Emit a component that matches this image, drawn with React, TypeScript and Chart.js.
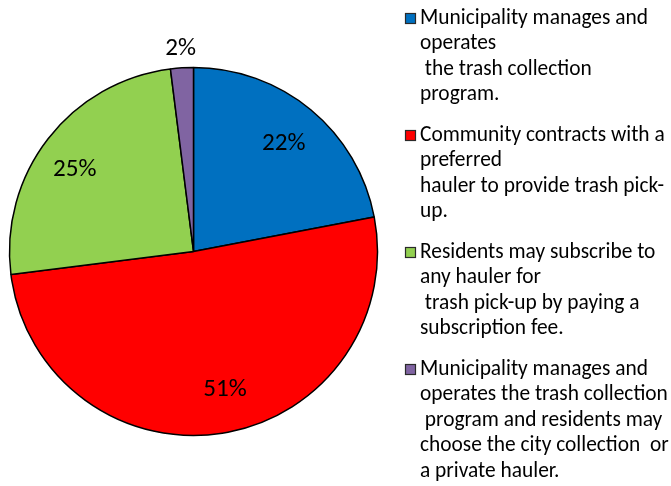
import React, { useEffect, useRef } from "react";
import { Chart, registerables } from "chart.js";

Chart.register(...registerables);

const categories: string[][] = [
  ["Municipality manages and", "operates", " the trash collection", "program."],
  ["Community contracts with a", "preferred", "hauler to provide trash pick-", "up."],
  ["Residents may subscribe to", "any hauler for", " trash pick-up by paying a", "subscription fee."],
  [
    "Municipality manages and",
    "operates the trash collection",
    " program and residents may",
    "choose the city collection  or",
    "a private hauler.",
  ],
];
const values: number[] = [22, 51, 25, 2];
const colors: string[] = ["#0070C0", "#FF0000", "#92D050", "#8064A2"];

// label placement style per slice: angle shift in degrees, radius fraction (outside if > 1)
const labelShiftDeg: number[] = [0, -4, -2.6, 0];
const labelRadiusFrac: number[] = [0.77, 0.76, 0.79, 1.115];

const FONT = "Carlito, Calibri, Lato, 'Open Sans', sans-serif";
const W = 671;
const H = 486;

function fontScale(ctx: CanvasRenderingContext2D): number {
  ctx.save();
  ctx.font = `17px ${FONT}`;
  const w = ctx.measureText("Municipality manages and").width;
  ctx.restore();
  return 228 / w;
}

const overlayPlugin = {
  id: "overlay",
  afterDraw(chart: any) {
    const ctx: CanvasRenderingContext2D = chart.ctx;
    const k = fontScale(ctx);
    const meta = chart.getDatasetMeta(0);
    const data: number[] = chart.data.datasets[0].data;
    const total = data.reduce((a, b) => a + b, 0);

    // percentage labels
    ctx.save();
    ctx.fillStyle = "#000";
    ctx.textAlign = "center";
    ctx.textBaseline = "middle";
    ctx.font = `${(20 * k).toFixed(2)}px ${FONT}`;
    meta.data.forEach((arc: any, i: number) => {
      const p = arc.getProps(["x", "y", "startAngle", "endAngle", "outerRadius"], true);
      const frac = data[i] / total;
      const mid = (p.startAngle + p.endAngle) / 2 + (labelShiftDeg[i] * Math.PI) / 180;
      const r = p.outerRadius * labelRadiusFrac[i];
      ctx.fillText(Math.round(frac * 100) + "%", p.x + Math.cos(mid) * r, p.y + Math.sin(mid) * r + 1.5);
    });
    ctx.restore();

    // legend
    ctx.save();
    ctx.font = `${(17 * k).toFixed(2)}px ${FONT}`;
    ctx.textBaseline = "middle";
    ctx.textAlign = "left";
    const lineH = 25.5;
    const gap = 15;
    let y = 18.5;
    const boxX = 405;
    const textX = 420;
    const labels: string[][] = chart.data.labels;
    labels.forEach((lines, i) => {
      ctx.fillStyle = colors[i];
      ctx.fillRect(boxX, y - 5.5, 11, 11);
      ctx.strokeStyle = "#2a2a2a";
      ctx.lineWidth = 1.2;
      ctx.strokeRect(boxX + 0.5, y - 5, 10, 10);
      ctx.fillStyle = "#000";
      lines.forEach((ln, j) => {
        ctx.fillText(ln, textX, y + j * lineH);
      });
      y += lines.length * lineH + gap;
    });
    ctx.restore();
  },
};

export default function App() {
  const ref = useRef<HTMLCanvasElement | null>(null);
  useEffect(() => {
    document.body.style.margin = "0";
    const canvas = ref.current!;
    const chart = new Chart(canvas, {
      type: "pie",
      data: {
        labels: categories as any,
        datasets: [
          {
            data: values,
            backgroundColor: colors,
            borderColor: "#000000",
            borderWidth: 1.5,
          },
        ],
      },
      options: {
        responsive: false,
        maintainAspectRatio: false,
        animation: false,
        layout: { padding: { left: 8.75, right: 292.75, top: 66.75, bottom: 49.75 } },
        plugins: {
          legend: { display: false },
          tooltip: { enabled: false },
        },
      },
      plugins: [overlayPlugin],
    });
    return () => chart.destroy();
  }, []);
  return (
    <div style={{ position: "absolute", left: 0, top: 0, width: W, height: H, background: "#fff" }}>
      <canvas ref={ref} width={W} height={H} />
    </div>
  );
}
